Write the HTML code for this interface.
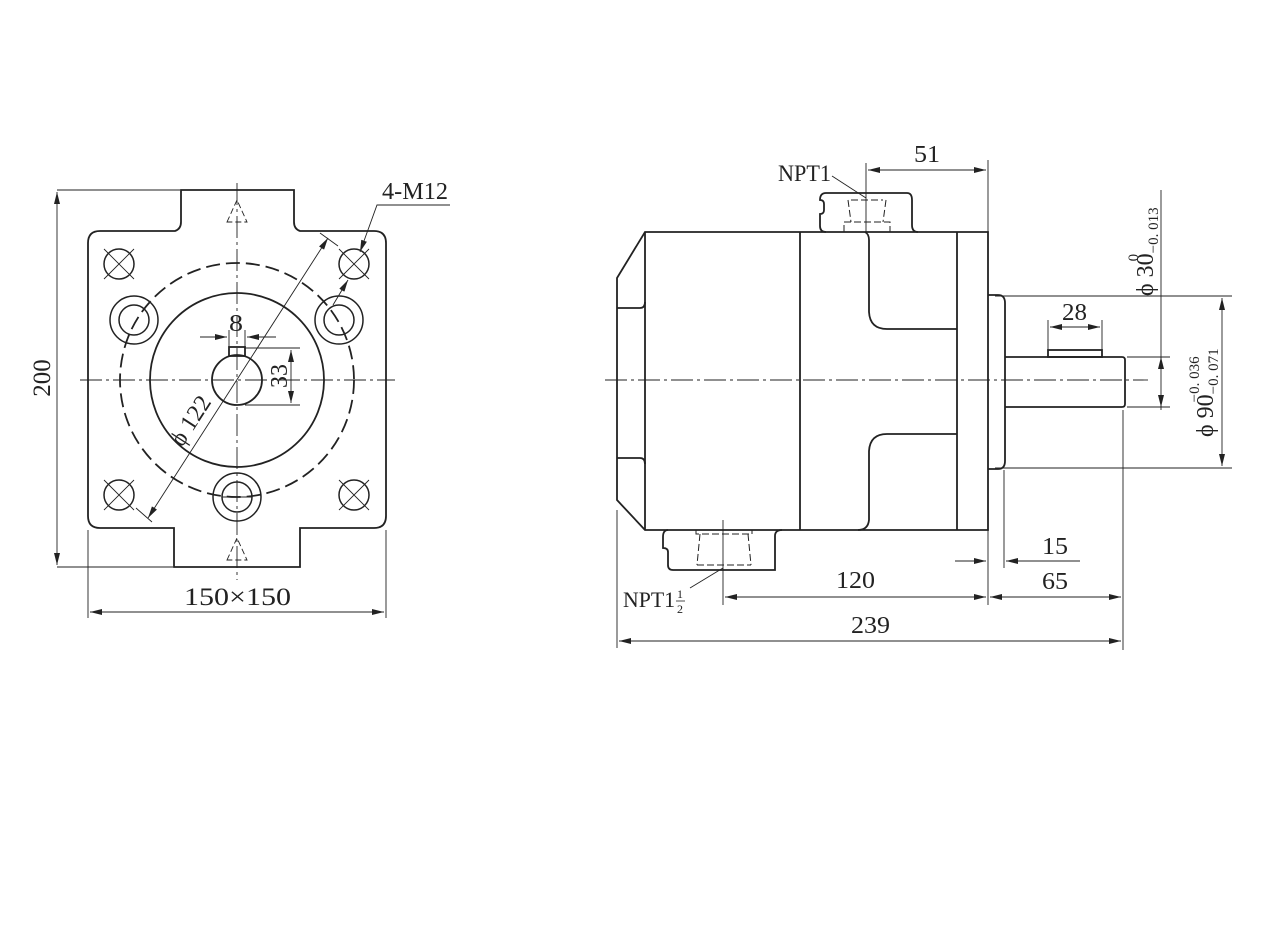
<!DOCTYPE html>
<html><head><meta charset="utf-8"><style>
html,body{margin:0;padding:0;background:#fff;}
svg{display:block;}
text{font-family:"Liberation Serif",serif;fill:#222;}
</style></head><body>
<svg width="1280" height="930" viewBox="0 0 1280 930" xmlns="http://www.w3.org/2000/svg">
<defs>
<marker id="a" viewBox="0 0 12 6" refX="12" refY="3" markerWidth="12" markerHeight="6" orient="auto-start-reverse" markerUnits="userSpaceOnUse"><path d="M0,0 L12,3 L0,6 z" fill="#222"/></marker>
</defs>
<g fill="none" stroke="#222" stroke-width="1.8">
<!-- LEFT VIEW -->
<path d="M100,231 L175,231 Q181,229 181,222 L181,190 L294,190 L294,222 Q294,229 300,231 L374,231 Q386,231 386,243 L386,516 Q386,528 374,528 L300,528 L300,567 L174,567 L174,528 L100,528 Q88,528 88,516 L88,243 Q88,231 100,231 Z"/>
<circle cx="237" cy="380" r="117" stroke-dasharray="14,6"/>
<circle cx="237" cy="380" r="87"/>
<circle cx="237" cy="380" r="25"/>
<rect x="229" y="347" width="16" height="9"/>
<g stroke-width="1.5">
<circle cx="119" cy="264" r="15"/><circle cx="354" cy="264" r="15"/>
<circle cx="119" cy="495" r="15"/><circle cx="354" cy="495" r="15"/>
<circle cx="134" cy="320" r="24"/><circle cx="134" cy="320" r="15"/>
<circle cx="339" cy="320" r="24"/><circle cx="339" cy="320" r="15"/>
<circle cx="237" cy="497" r="24"/><circle cx="237" cy="497" r="15"/>
</g>
<g stroke-width="0.9">
<path d="M104,249 L134,279 M134,249 L104,279 M339,249 L369,279 M369,249 L339,279 M104,480 L134,510 M134,480 L104,510 M339,480 L369,510 M369,480 L339,510"/>
<path d="M222,497 L252,497"/>
<path d="M237,183 L237,580" stroke-dasharray="22,4,3,4"/>
<path d="M80,380 L395,380" stroke-dasharray="22,4,3,4"/>
<path d="M227,222 L237,200 L247,222 Z M227,560 L237,538 L247,560 Z" stroke-dasharray="6,3"/>
<path d="M57,190 L180,190 M57,567 L173,567"/>
<path d="M57,192 L57,565" marker-start="url(#a)" marker-end="url(#a)"/>
<path d="M88,530 L88,618 M386,530 L386,618"/>
<path d="M90,612 L384,612" marker-start="url(#a)" marker-end="url(#a)"/>
<path d="M148,518 L328,238" marker-start="url(#a)" marker-end="url(#a)"/>
<path d="M136,508 L152,522 M320,233 L338,246"/>
<path d="M200,337 L227,337" marker-end="url(#a)"/>
<path d="M276,337 L247,337" marker-end="url(#a)"/>
<path d="M229,330 L229,347 M245,330 L245,347"/>
<path d="M245,348 L300,348 M245,405 L300,405"/>
<path d="M291,350 L291,403" marker-start="url(#a)" marker-end="url(#a)"/>
<path d="M450,205 L377,205 L360,252" marker-end="url(#a)"/>
<path d="M333,305 L348,280" marker-end="url(#a)"/>
</g>

<!-- RIGHT VIEW -->
<path d="M645,232 L988,232 L988,530 L645,530 L617,500 L617,278 Z"/>
<path d="M617,308 L640,308 Q645,308 645,302 M617,458 L640,458 Q645,458 645,464"/>
<path d="M645,232 L645,530 M800,232 L800,530 M957,232 L957,530"/>
<path d="M865,232 Q869,234 869,240 L869,312 Q870,329 887,329 L957,329"/>
<path d="M957,434 L887,434 Q870,434 869,451 L869,520 Q868,530 858,530"/>
<path d="M826,232 Q820,232 820,226 L820,214 Q824,214 824,210 L824,204 Q824,200 820,200 Q820,193 826,193 L907,193 Q912,193 912,200 L912,225 Q912,232 918,232"/>
<path d="M668,530 Q663,530 663,537 L663,548 Q668,548 668,552 L668,565 Q668,570 673,570 L775,570 L775,536 Q775,530 782,530"/>
<path d="M988,295 L998,295 Q1005,295 1005,303 L1005,461 Q1005,469 998,469 L988,469"/>
<path d="M1005,357 L1122,357 Q1125,357 1125,360 L1125,404 Q1125,407 1122,407 L1005,407"/>
<rect x="1048" y="350" width="54" height="7"/>
<g stroke-width="1" stroke-dasharray="7,3">
<path d="M844,232 L844,222 L890,222 L890,232 M848,200 L851,222 M886,200 L883,222 M851,200 L883,200"/>
<path d="M696,530 L696,534 L752,534 L752,530 M700,534 L697,565 M748,534 L751,565 M697,565 L751,565"/>
</g>
<g stroke-width="0.9">
<path d="M605,380 L1148,380" stroke-dasharray="22,4,3,4"/>
<path d="M866,163 L866,232 M988,160 L988,232"/>
<path d="M868,170 L986,170" marker-start="url(#a)" marker-end="url(#a)"/>
<path d="M832,176 L866,198"/>
<path d="M723,520 L723,605"/>
<path d="M723,568 L690,588"/>
<path d="M1161,190 L1161,410"/>
<path d="M1127,357 L1170,357 M1127,407 L1170,407"/>
<path d="M1161,367 L1161,357" marker-end="url(#a)"/>
<path d="M1161,397 L1161,407" marker-end="url(#a)"/>
<path d="M995,296 L1232,296 M995,468 L1232,468"/>
<path d="M1222,298 L1222,466" marker-start="url(#a)" marker-end="url(#a)"/>
<path d="M1048,320 L1048,350 M1102,320 L1102,350"/>
<path d="M1050,327 L1100,327" marker-start="url(#a)" marker-end="url(#a)"/>
<path d="M988,530 L988,605 M1004,470 L1004,568 M1123,410 L1123,650 M617,510 L617,648"/>
<path d="M955,561 L986,561" marker-end="url(#a)"/>
<path d="M1080,561 L1006,561" marker-end="url(#a)"/>
<path d="M725,597 L986,597" marker-start="url(#a)" marker-end="url(#a)"/>
<path d="M990,597 L1121,597" marker-start="url(#a)" marker-end="url(#a)"/>
<path d="M619,641 L1121,641" marker-start="url(#a)" marker-end="url(#a)"/>
</g>
</g>

<!-- TEXT -->
<text x="382" y="199" font-size="24" textLength="66" lengthAdjust="spacingAndGlyphs">4-M12</text>
<text x="229" y="331" font-size="24" textLength="14" lengthAdjust="spacingAndGlyphs">8</text>
<text transform="translate(287,376) rotate(-90)" font-size="24" text-anchor="middle">33</text>
<text transform="translate(197,425) rotate(-57)" font-size="24" text-anchor="middle">ϕ 122</text>
<text transform="translate(50,378) rotate(-90)" font-size="25" text-anchor="middle">200</text>
<text x="184" y="605" font-size="25" textLength="107" lengthAdjust="spacingAndGlyphs">150×150</text>
<text x="778" y="181" font-size="23" textLength="53" lengthAdjust="spacingAndGlyphs">NPT1</text>
<text x="914" y="162" font-size="24" textLength="26" lengthAdjust="spacingAndGlyphs">51</text>
<text x="1062" y="320" font-size="24" textLength="25" lengthAdjust="spacingAndGlyphs">28</text>
<text x="1042" y="554" font-size="24" textLength="26" lengthAdjust="spacingAndGlyphs">15</text>
<text x="1042" y="589" font-size="24" textLength="26" lengthAdjust="spacingAndGlyphs">65</text>
<text x="836" y="588" font-size="24" textLength="39" lengthAdjust="spacingAndGlyphs">120</text>
<text x="851" y="633" font-size="24" textLength="39" lengthAdjust="spacingAndGlyphs">239</text>
<text x="623" y="607" font-size="22" textLength="52" lengthAdjust="spacingAndGlyphs">NPT1</text>
<text x="677" y="598" font-size="12">1</text>
<line x1="676" y1="601" x2="685" y2="601" stroke="#222" stroke-width="0.8"/>
<text x="677" y="613" font-size="12">2</text>
<text transform="translate(1153,296) rotate(-90)" font-size="24">ϕ 30<tspan font-size="15" dy="5">−0. 013</tspan><tspan font-size="15" dx="-54" dy="-20">0</tspan></text>
<text transform="translate(1213,437) rotate(-90)" font-size="24">ϕ 90<tspan font-size="15" dy="5">−0. 071</tspan><tspan font-size="15" dx="-54" dy="-19">−0. 036</tspan></text>
</svg>
</body></html>
